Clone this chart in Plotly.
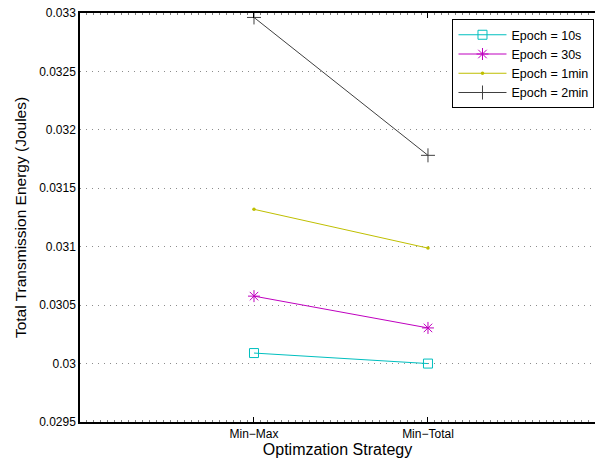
import plotly.graph_objects as go

strategies = ["Min\u2212Max", "Min\u2212Total"]
x_pos = [1, 2]
series_names = ["Epoch = 10s", "Epoch = 30s", "Epoch = 1min", "Epoch = 2min"]
energy_10s = [0.03009, 0.03000]
energy_30s = [0.030577, 0.030305]
energy_1min = [0.03132, 0.030988]
energy_2min = [0.032962, 0.031782]
y_ticks = [0.0295, 0.03, 0.0305, 0.031, 0.0315, 0.032, 0.0325, 0.033]
y_tick_labels = ["0.0295", "0.03", "0.0305", "0.031", "0.0315", "0.032", "0.0325", "0.033"]

colors = ["rgb(0,191,191)", "rgb(191,0,191)", "rgb(191,191,0)", "rgb(64,64,64)"]
markers = [
    dict(symbol="square-open", size=9, line=dict(width=1)),
    dict(symbol="asterisk-open", size=10, line=dict(width=1)),
    dict(symbol="circle", size=3.5, line=dict(width=0)),
    dict(symbol="cross-thin-open", size=10, line=dict(width=1)),
]
data = [energy_10s, energy_30s, energy_1min, energy_2min]

fig = go.Figure()
for name, ys, c, m in zip(series_names, data, colors, markers):
    mk = dict(m)
    mk["color"] = c
    mk["line"] = dict(mk["line"], color=c)
    fig.add_trace(go.Scatter(
        x=x_pos, y=ys, name=name, mode="lines+markers",
        line=dict(color=c, width=1), marker=mk,
    ))

font = "Liberation Sans, Arial, Helvetica, sans-serif"
fig.update_layout(
    width=595, height=463,
    margin=dict(l=80, r=0, t=13, b=41),
    paper_bgcolor="white", plot_bgcolor="white",
    font=dict(family=font, size=12, color="black"),
    showlegend=True,
    legend=dict(
        x=0.999, xanchor="right", y=0.985, yanchor="top",
        bordercolor="black", borderwidth=1, bgcolor="white",
        font=dict(size=12.5), tracegroupgap=0, itemwidth=48,
    ),
    xaxis=dict(
        range=[0, 2.96], tickvals=x_pos, ticktext=strategies,
        showgrid=False, zeroline=False,
        showline=True, linecolor="black", linewidth=1.5, mirror="ticks",
        ticks="inside", ticklen=5, tickcolor="black",
        minor=dict(ticks="inside", dtick=0.04, ticklen=2, tickcolor="gray"),
        tickfont=dict(size=12),
        title=dict(text="Optimzation Strategy", font=dict(size=16), standoff=4),
    ),
    yaxis=dict(
        range=[0.0295, 0.033], tickvals=y_ticks, ticktext=y_tick_labels,
        showgrid=True, gridcolor="rgb(140,140,140)", griddash="1px,5px", gridwidth=1,
        zeroline=False,
        showline=True, linecolor="black", linewidth=1.5, mirror=False,
        ticks="", tickfont=dict(size=12),
        title=dict(text="Total Transmission Energy (Joules)", font=dict(size=15.5), standoff=9),
    ),
)

fig.write_html("out.html")
